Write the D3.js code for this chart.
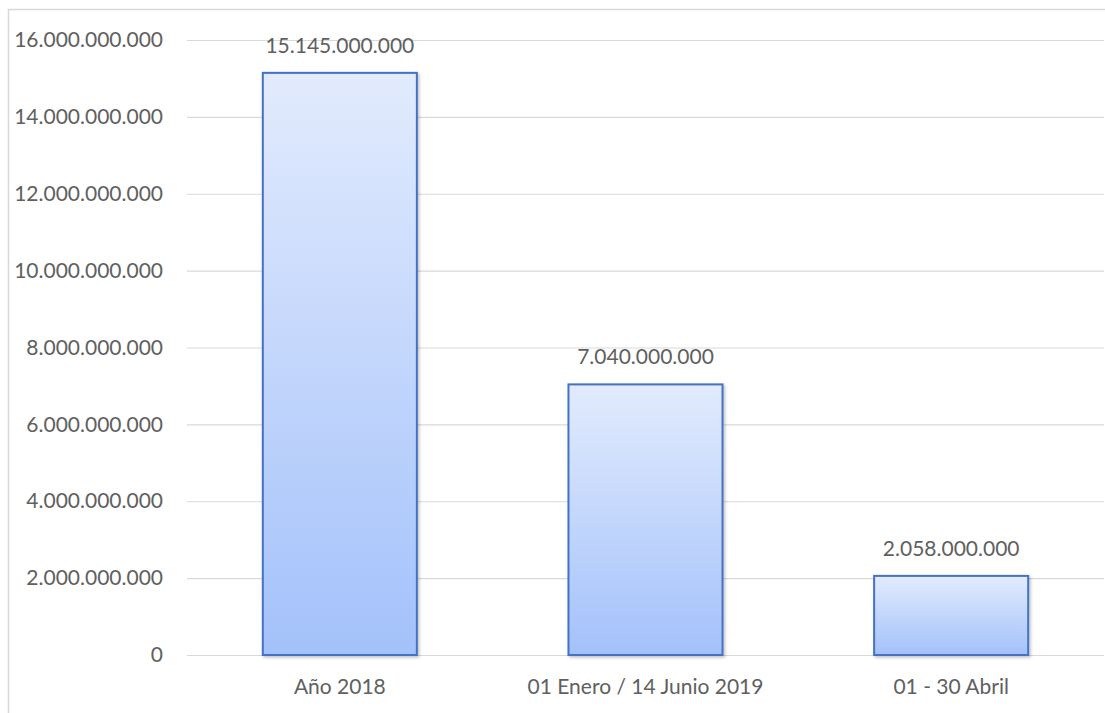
<!DOCTYPE html>
<html>
<head>
<meta charset="utf-8">
<script src="https://cdn.jsdelivr.net/npm/d3@7"></script>
<style>
  body { margin: 0; background: #fff; }
  svg { display: block; }
  text { font-family: Lato, "Open Sans", sans-serif; fill: #606060; }
</style>
</head>
<body>
<svg class="svg" width="1105" height="713"></svg>
<script>
let categories = ['Año 2018', '01 Enero / 14 Junio 2019', '01 - 30 Abril'];
let values = [15145000000, 7040000000, 2058000000];
let yTicks = [0, 2000000000, 4000000000, 6000000000, 8000000000, 10000000000, 12000000000, 14000000000, 16000000000];

let svg = d3.select('.svg');
let plotLeft = 187, plotRight = 1104, plotTop = 40, plotBottom = 655;
let labelSize = '21px';

let fmt = d3.formatLocale({decimal: ',', thousands: '.', grouping: [3], currency: ['', '']}).format(',d');

let x = d3.scaleBand().domain(categories).range([plotLeft, plotRight]).paddingInner(0.496).paddingOuter(0.248);
let y = d3.scaleLinear().domain([0, 16000000000]).range([plotBottom, plotTop]);

// chart border (left and top only visible)
svg.append('rect')
    .attr('x', 8.5).attr('y', 9.5)
    .attr('width', 1200).attr('height', 800)
    .attr('fill', 'none')
    .attr('stroke', '#d9d9d9')
    .attr('stroke-width', 1.5);

let defs = svg.append('defs');
let grad = defs.append('linearGradient')
    .attr('id', 'barGrad')
    .attr('x1', 0).attr('y1', 0).attr('x2', 0).attr('y2', 1);
grad.append('stop').attr('offset', '0%').attr('stop-color', '#e2ebfd');
grad.append('stop').attr('offset', '100%').attr('stop-color', '#a3c1fa');

let shadow = defs.append('filter').attr('id', 'shadow')
    .attr('x', '-10%').attr('y', '-10%').attr('width', '130%').attr('height', '130%');
shadow.append('feDropShadow')
    .attr('dx', 1.5).attr('dy', 1.5).attr('stdDeviation', 1.5)
    .attr('flood-color', '#000').attr('flood-opacity', 0.25);

// gridlines + y labels
let yAxis = d3.axisLeft(y).tickValues(yTicks).tickSize(-(plotRight - plotLeft)).tickFormat(fmt).tickPadding(24);
let yg = svg.append('g').attr('transform', 'translate(' + plotLeft + ',0)').call(yAxis);
yg.select('.domain').remove();
yg.selectAll('.tick line').attr('stroke', '#d9d9d9').attr('stroke-width', 1.2);
yg.selectAll('.tick text')
    .attr('font-size', labelSize)
    .attr('font-family', 'Lato, "Open Sans", sans-serif')
    .attr('fill', '#606060');

// bars
let bars = svg.selectAll('.bar')
    .data(values)
    .enter()
    .append('rect')
    .attr('class', 'bar')
    .attr('x', function (d, i) { return x(categories[i]); })
    .attr('y', function (d) { return y(d); })
    .attr('width', x.bandwidth())
    .attr('height', function (d) { return plotBottom - y(d); })
    .attr('fill', 'url(#barGrad)')
    .attr('stroke', '#4472c4')
    .attr('stroke-width', 2)
    .attr('filter', 'url(#shadow)');

// value labels
svg.selectAll('.valLabel')
    .data(values)
    .enter()
    .append('text')
    .attr('class', 'valLabel')
    .attr('x', function (d, i) { return x(categories[i]) + x.bandwidth() / 2; })
    .attr('y', function (d) { return y(d) - 20; })
    .attr('text-anchor', 'middle')
    .attr('font-size', labelSize)
    .text(function (d) { return fmt(d); });

// x labels
let xAxis = d3.axisBottom(x).tickSize(0).tickPadding(24);
let xg = svg.append('g').attr('transform', 'translate(0,' + plotBottom + ')').call(xAxis);
xg.select('.domain').remove();
xg.selectAll('.tick text')
    .attr('font-size', labelSize)
    .attr('font-family', 'Lato, "Open Sans", sans-serif')
    .attr('fill', '#606060');
</script>
</body>
</html>
